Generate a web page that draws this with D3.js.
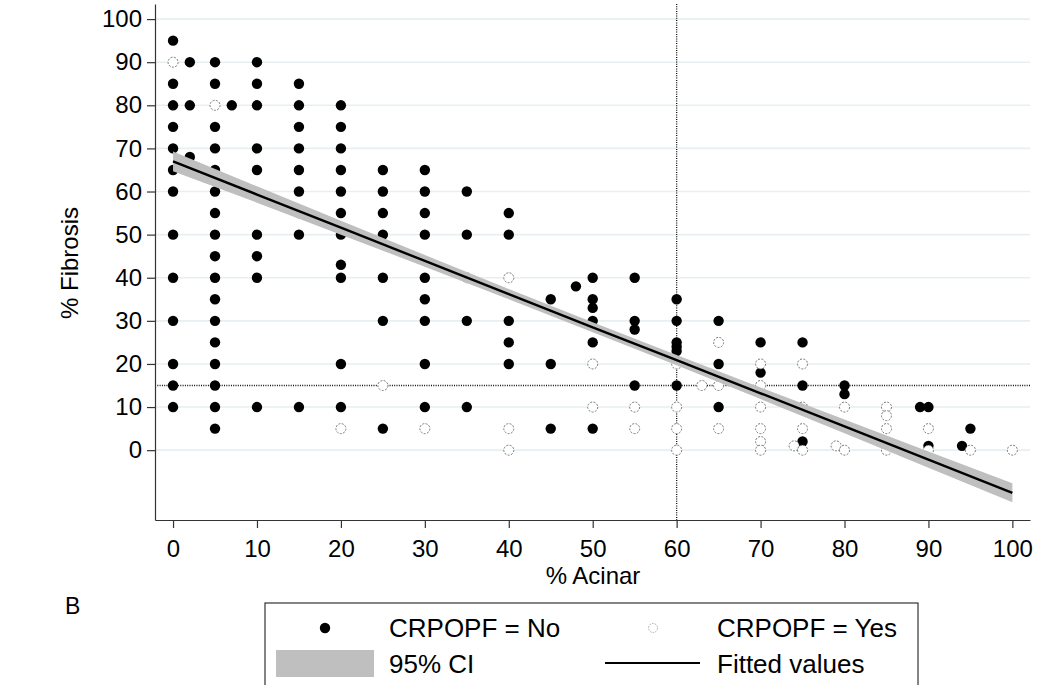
<!DOCTYPE html>
<html>
<head>
<meta charset="utf-8">
<script src="https://cdn.jsdelivr.net/npm/d3@7/dist/d3.min.js"></script>
<style>
  html, body { margin: 0; padding: 0; background: #fff; }
  svg text { font-family: "Liberation Sans", Arial, Helvetica, sans-serif; fill: #000; }
</style>
</head>
<body>
<svg id="chart" width="1037" height="685"></svg>
<script>
// ---------------- data ----------------
const xTicks = [0, 10, 20, 30, 40, 50, 60, 70, 80, 90, 100];
const yTicks = [0, 10, 20, 30, 40, 50, 60, 70, 80, 90, 100];

// CRPOPF = No  ([% Acinar, % Fibrosis])
const crpopfNo = [
  [0,95],[0,85],[0,80],[0,75],[0,70],[0,65],[0,60],[0,50],[0,40],[0,30],[0,20],[0,15],[0,10],
  [2,90],[2,80],[2,68],
  [5,90],[5,85],[5,75],[5,70],[5,65],[5,60],[5,55],[5,50],[5,45],[5,40],[5,35],[5,30],[5,25],[5,20],[5,15],[5,10],[5,5],
  [7,80],
  [10,90],[10,85],[10,80],[10,70],[10,65],[10,50],[10,45],[10,40],[10,10],
  [15,85],[15,80],[15,75],[15,70],[15,65],[15,60],[15,50],[15,10],
  [20,80],[20,75],[20,70],[20,65],[20,60],[20,55],[20,50],[20,43],[20,40],[20,20],[20,10],
  [25,65],[25,60],[25,55],[25,50],[25,40],[25,30],[25,5],
  [30,65],[30,60],[30,55],[30,50],[30,40],[30,35],[30,30],[30,20],[30,10],
  [35,60],[35,50],[35,30],[35,10],
  [40,55],[40,50],[40,30],[40,25],[40,20],
  [45,35],[45,20],[45,5],
  [48,38],
  [50,40],[50,35],[50,33],[50,30],[50,25],[50,5],
  [55,40],[55,30],[55,28],[55,15],
  [60,35],[60,30],[60,25],[60,24],[60,23],[60,15],
  [65,30],[65,20],[65,10],
  [70,25],[70,18],
  [75,25],[75,15],[75,2],
  [80,15],[80,13],
  [89,10],
  [90,10],[90,1],
  [94,1],
  [95,5]
];

// CRPOPF = Yes
const crpopfYes = [
  [0,90],[5,80],[15,55],[20,5],[25,15],[30,5],[35,40],
  [40,40],[40,5],[40,0],
  [50,20],[50,10],
  [55,10],[55,5],
  [60,20],[60,10],[60,5],[60,0],
  [63,15],
  [65,25],[65,15],[65,5],
  [70,20],[70,15],[70,10],[70,5],[70,2],[70,0],
  [74,1],
  [75,20],[75,10],[75,5],[75,0],
  [79,1],
  [80,10],[80,0],
  [85,10],[85,8],[85,5],[85,0],
  [90,5],[90,0],
  [95,0],
  [100,0]
];

// Fitted values and 95% CI
const fitX   = [0, 10, 20, 30, 40, 50, 60, 70, 80, 90, 100];
const fitY   = [67.0, 59.3, 51.6, 43.9, 36.2, 28.5, 20.9, 13.2, 5.5, -2.2, -9.9];
const ciLow  = [64.7, 57.4, 50.0, 42.55, 35.0, 27.35, 19.7, 11.85, 3.9, -4.1, -12.1];
const ciHigh = [69.3, 61.2, 53.2, 45.25, 37.4, 29.65, 22.1, 14.55, 7.1, -0.3, -7.7];

const xRef = 60;   // vertical reference line
const yRef = 15;   // horizontal reference line

// ---------------- layout ----------------
const svg = d3.select("#chart");
const pLeft = 155, pRight = 1030, pTop = 4, pBottom = 520;

const x = d3.scaleLinear().domain([-2.15, 102.1]).range([pLeft, pRight]);
const y = d3.scaleLinear().domain([-16.2, 103.5]).range([pBottom, pTop]);

// gridlines
svg.append("g").selectAll("line").data(yTicks).join("line")
  .attr("x1", pLeft).attr("x2", pRight)
  .attr("y1", d => y(d)).attr("y2", d => y(d))
  .attr("stroke", "#e6eff1").attr("stroke-width", 1.6);

// reference lines
svg.append("line")
  .attr("x1", pLeft).attr("x2", pRight)
  .attr("y1", y(yRef)).attr("y2", y(yRef))
  .attr("stroke", "#111").attr("stroke-width", 1.3)
  .attr("stroke-dasharray", "1,1.3");
svg.append("line")
  .attr("x1", x(xRef)).attr("x2", x(xRef))
  .attr("y1", pTop).attr("y2", pBottom)
  .attr("stroke", "#111").attr("stroke-width", 1.3)
  .attr("stroke-dasharray", "1,1.3");

// points: No (filled)
svg.append("g").selectAll("circle").data(crpopfNo).join("circle")
  .attr("cx", d => x(d[0])).attr("cy", d => y(d[1]))
  .attr("r", 5.2).attr("fill", "#000");

// points: Yes (hollow)
svg.append("g").selectAll("circle").data(crpopfYes).join("circle")
  .attr("cx", d => x(d[0])).attr("cy", d => y(d[1]))
  .attr("r", 5).attr("fill", "#fff")
  .attr("stroke", "#666").attr("stroke-width", 0.9)
  .attr("stroke-dasharray", "2,1.4");

// CI band
const band = fitX.map((v, i) => ({x: v, lo: ciLow[i], hi: ciHigh[i]}));
svg.append("path").datum(band)
  .attr("fill", "#bfbfbf")
  .attr("d", d3.area().x(d => x(d.x)).y0(d => y(d.lo)).y1(d => y(d.hi)));

// fitted line
const fit = fitX.map((v, i) => ({x: v, y: fitY[i]}));
svg.append("path").datum(fit)
  .attr("fill", "none").attr("stroke", "#000").attr("stroke-width", 2.4)
  .attr("d", d3.line().x(d => x(d.x)).y(d => y(d.y)));

// axes
const yAxis = svg.append("g").attr("transform", `translate(${pLeft},0)`)
  .call(d3.axisLeft(y).tickValues(yTicks).tickSize(8).tickSizeOuter(0).tickPadding(5));
const xAxis = svg.append("g").attr("transform", `translate(0,${pBottom})`)
  .call(d3.axisBottom(x).tickValues(xTicks).tickSize(8).tickSizeOuter(0).tickPadding(12));
[yAxis, xAxis].forEach(g => {
  g.select(".domain").attr("stroke", "#333").attr("stroke-width", 1.2);
  g.selectAll(".tick line").attr("stroke", "#333").attr("stroke-width", 1.2);
  g.selectAll(".tick text").style("font-size", "24px")
    .style("font-family", "'Liberation Sans', Arial, sans-serif").attr("fill", "#000");
});

// axis titles
svg.append("text")
  .attr("transform", "translate(78,263) rotate(-90)")
  .attr("text-anchor", "middle")
  .style("font-size", "24px").text("% Fibrosis");
svg.append("text")
  .attr("x", 593).attr("y", 584)
  .attr("text-anchor", "middle")
  .style("font-size", "24px").text("% Acinar");

// panel label
svg.append("text").attr("x", 65).attr("y", 614)
  .style("font-size", "23px").text("B");

// legend
const lg = svg.append("g");
lg.append("rect").attr("x", 265).attr("y", 603).attr("width", 653).attr("height", 120)
  .attr("fill", "#fff").attr("stroke", "#333").attr("stroke-width", 1.2);
lg.append("circle").attr("cx", 325).attr("cy", 628).attr("r", 5.2).attr("fill", "#000");
lg.append("text").attr("x", 389).attr("y", 637).style("font-size", "26px").text("CRPOPF = No");
lg.append("circle").attr("cx", 653).attr("cy", 628).attr("r", 4.5)
  .attr("fill", "#fff").attr("stroke", "#999").attr("stroke-width", 0.8)
  .attr("stroke-dasharray", "1.6,1.2");
lg.append("text").attr("x", 717).attr("y", 637).style("font-size", "26px").text("CRPOPF = Yes");
lg.append("rect").attr("x", 276).attr("y", 650).attr("width", 98).attr("height", 27)
  .attr("fill", "#bfbfbf");
lg.append("text").attr("x", 389).attr("y", 673).style("font-size", "26px").text("95% CI");
lg.append("line").attr("x1", 605).attr("x2", 700).attr("y1", 663).attr("y2", 663)
  .attr("stroke", "#000").attr("stroke-width", 2);
lg.append("text").attr("x", 717).attr("y", 673).style("font-size", "26px").text("Fitted values");
</script>
</body>
</html>
